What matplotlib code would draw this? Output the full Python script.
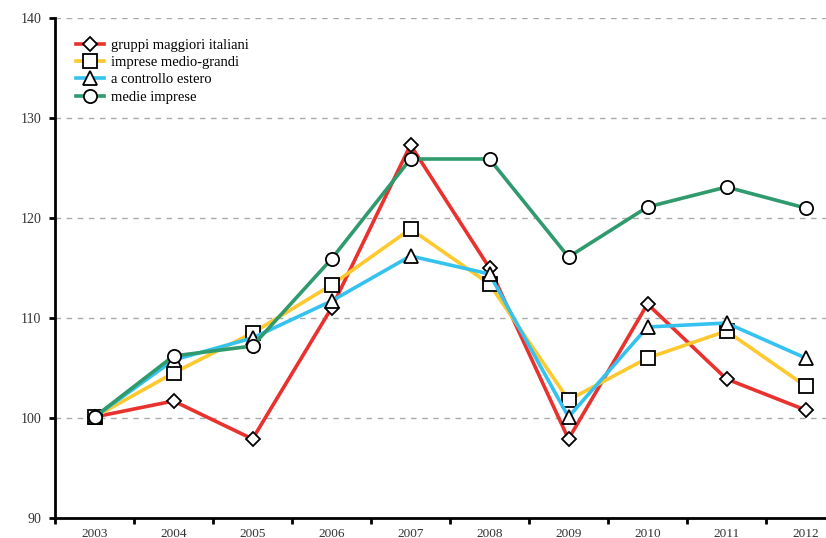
import matplotlib.pyplot as plt
import numpy as np

years = ["2003", "2004", "2005", "2006", "2007", "2008", "2009", "2010", "2011", "2012"]
gruppi = [100.1, 101.7, 97.9, 111.0, 127.3, 115.0, 97.9, 111.4, 103.9, 100.8]
medio_grandi = [100.1, 104.5, 108.5, 113.3, 118.9, 113.4, 101.8, 106.0, 108.7, 103.2]
estero = [100.1, 105.8, 108.0, 111.7, 116.2, 114.4, 100.1, 109.1, 109.5, 106.0]
medie = [100.1, 106.2, 107.2, 115.9, 125.9, 125.9, 116.1, 121.1, 123.1, 121.0]

plt.rcParams["font.family"] = ["Liberation Serif", "DejaVu Serif"]

fig = plt.figure(figsize=(8.26, 5.38), dpi=100)
ax = fig.add_axes([55 / 826, 1 - 518 / 538, 790 / 826, 500 / 538])

x = np.arange(len(years))
series = [
    ("gruppi maggiori italiani", gruppi, "#E9312D", "D", 7),
    ("imprese medio-grandi", medio_grandi, "#FDC92E", "s", 9.5),
    ("a controllo estero", estero, "#35C2EE", "^", 9.5),
    ("medie imprese", medie, "#2E9A6D", "o", 9.5),
]
for label, vals, color, marker, ms in series:
    ax.plot(x, vals, color=color, linewidth=2.6, marker=marker, markersize=ms,
            markerfacecolor="white", markeredgecolor="black", markeredgewidth=1.3,
            label=label, zorder=3)

ax.set_xlim(-0.5, 9.5)
ax.set_ylim(90, 140)
ax.set_yticks([90, 100, 110, 120, 130, 140])
ax.yaxis.grid(True, linestyle=(0, (4, 4)), color="#aaaaaa", linewidth=1)
ax.set_axisbelow(True)

ax.set_xticks(x)
ax.set_xticklabels(years)
ax.set_xticks(np.arange(-0.5, 10, 1), minor=True)
ax.tick_params(axis="x", which="major", length=0, pad=7, labelsize=9.5, labelcolor="#333333")
ax.tick_params(axis="x", which="minor", length=4, width=2, direction="out")
ax.tick_params(axis="y", length=4, width=2, direction="out", pad=6, labelsize=10, labelcolor="#333333")

for s in ["top", "right"]:
    ax.spines[s].set_visible(False)
for s in ["left", "bottom"]:
    ax.spines[s].set_linewidth(2)

ax.legend(loc="upper left", bbox_to_anchor=(0.01, 0.985), frameon=False, fontsize=10.5,
          handlelength=1.9, labelspacing=0.28, handletextpad=0.5)

plt.savefig("out.png", dpi=100)
